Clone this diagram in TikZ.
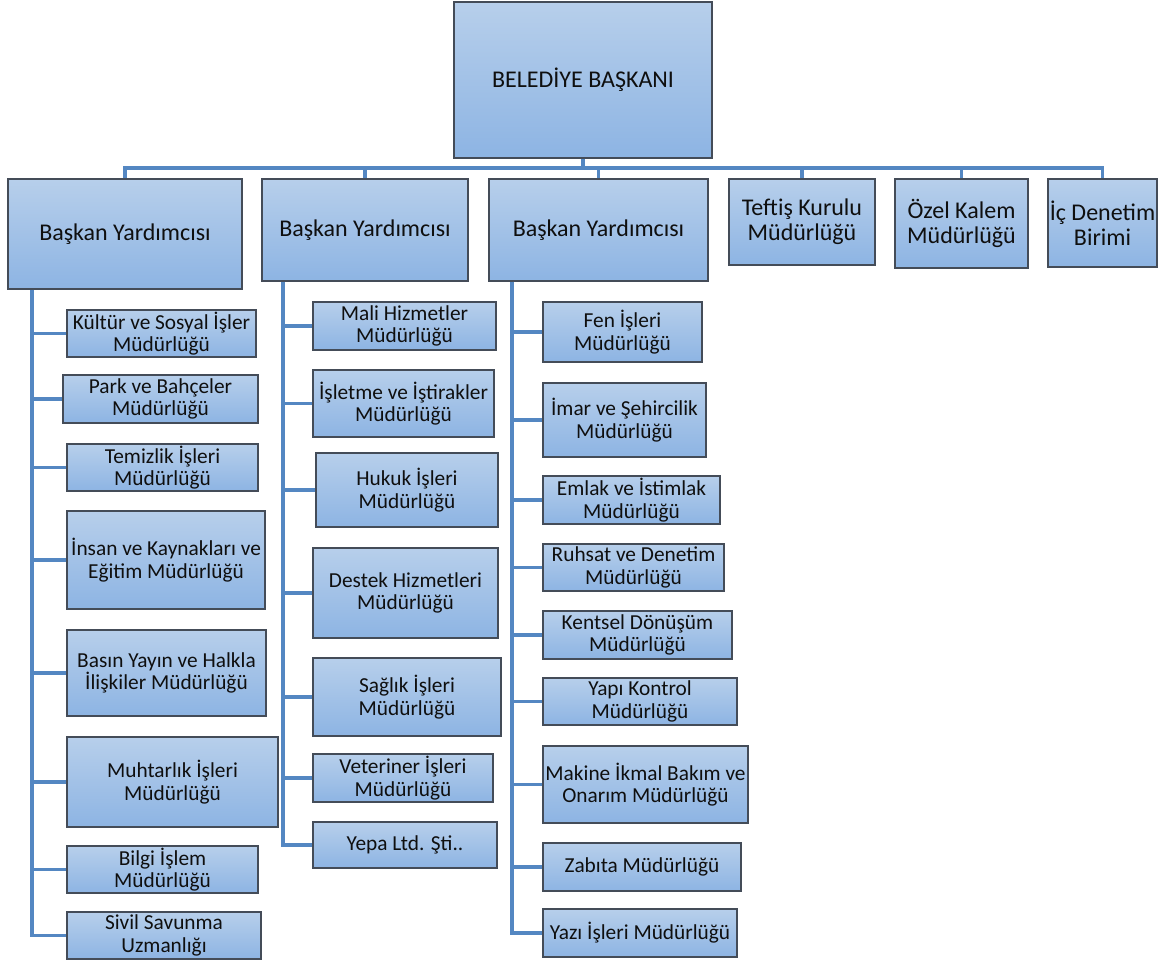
\documentclass[tikz,border=0pt]{standalone}
\usepackage{fontspec}
\setmainfont{Carlito}
\definecolor{boxtop}{RGB}{183,207,235}
\definecolor{boxbot}{RGB}{141,180,227}
\definecolor{boxline}{RGB}{68,76,88}
\definecolor{conncol}{RGB}{84,135,194}
\definecolor{txtcol}{RGB}{15,15,15}
\tikzset{
  box/.style={draw=boxline, line width=1pt, top color=boxtop, bottom color=boxbot,
    rectangle, inner sep=1pt, align=center, text=txtcol},
  bigtxt/.style={font=\fontsize{18}{18.5}\selectfont},
  smalltxt/.style={font=\fontsize{16}{17}\selectfont},
  conn/.style={draw=conncol, line width=2.5pt},
}
\newcommand\orgbox[7]{\node[box,#7, minimum width={(#4-#2)*0.75pt}, minimum height={(#5-#3)*0.75pt}] (#1) at ({(#2+#4)/2},{(#3+#5)/2}) {#6};}
\begin{document}
\begin{tikzpicture}[x=0.75pt,y=-0.75pt]
\useasboundingbox (0,0) rectangle (1176,962);
% top level
\orgbox{pres}{454}{2}{712}{158}{BELEDİYE BAŞKANI}{bigtxt}
\orgbox{by1}{8}{179}{242}{289}{Başkan Yardımcısı}{bigtxt}
\orgbox{by2}{262}{179}{468}{281}{Başkan Yardımcısı}{bigtxt}
\orgbox{by3}{489}{179}{708}{281}{Başkan Yardımcısı}{bigtxt}
\orgbox{teftis}{729}{179}{875}{265}{Teftiş Kurulu\\Müdürlüğü}{bigtxt}
\orgbox{ozel}{895}{179}{1028}{268}{Özel Kalem\\Müdürlüğü}{bigtxt}
\orgbox{ic}{1048}{179}{1157}{267}{İç Denetim\\Birimi}{bigtxt}
% left column
\orgbox{kultur}{67}{310}{256}{357}{Kültür ve Sosyal İşler\\Müdürlüğü}{smalltxt}
\orgbox{park}{63}{375}{258}{423}{Park ve Bahçeler\\Müdürlüğü}{smalltxt}
\orgbox{temizlik}{67}{444}{258}{491}{Temizlik İşleri\\Müdürlüğü}{smalltxt}
\orgbox{insan}{67}{511}{265}{609}{İnsan ve Kaynakları ve\\Eğitim Müdürlüğü}{smalltxt}
\orgbox{basin}{67}{630}{266}{716}{Basın Yayın ve Halkla\\İlişkiler Müdürlüğü}{smalltxt}
\orgbox{muhtar}{67}{737}{278}{827}{Muhtarlık İşleri\\Müdürlüğü}{smalltxt}
\orgbox{bilgi}{67}{846}{258}{893}{Bilgi İşlem\\Müdürlüğü}{smalltxt}
\orgbox{sivil}{67}{912}{261}{959}{Sivil Savunma\\Uzmanlığı}{smalltxt}
% middle column
\orgbox{mali}{313}{302}{496}{350}{Mali Hizmetler\\Müdürlüğü}{smalltxt}
\orgbox{isletme}{313}{370}{494}{437}{İşletme ve İştirakler\\Müdürlüğü}{smalltxt}
\orgbox{hukuk}{316}{453}{498}{527}{Hukuk İşleri\\Müdürlüğü}{smalltxt}
\orgbox{destek}{313}{548}{498}{638}{Destek Hizmetleri\\Müdürlüğü}{smalltxt}
\orgbox{saglik}{313}{658}{501}{736}{Sağlık İşleri\\Müdürlüğü}{smalltxt}
\orgbox{veteriner}{313}{754}{493}{802}{Veteriner İşleri\\Müdürlüğü}{smalltxt}
\orgbox{yepa}{313}{822}{497}{868}{Yepa Ltd. Şti..}{smalltxt}
% right column
\orgbox{fen}{543}{302}{702}{362}{Fen İşleri\\Müdürlüğü}{smalltxt}
\orgbox{imar}{543}{383}{706}{457}{İmar ve Şehircilik\\Müdürlüğü}{smalltxt}
\orgbox{emlak}{543}{476}{720}{524}{Emlak ve İstimlak\\Müdürlüğü}{smalltxt}
\orgbox{ruhsat}{543}{544}{724}{591}{Ruhsat ve Denetim\\Müdürlüğü}{smalltxt}
\orgbox{kentsel}{543}{611}{732}{659}{Kentsel Dönüşüm\\Müdürlüğü}{smalltxt}
\orgbox{yapi}{543}{678}{737}{725}{Yapı Kontrol\\Müdürlüğü}{smalltxt}
\orgbox{makine}{543}{746}{748}{823}{Makine İkmal Bakım ve\\Onarım Müdürlüğü}{smalltxt}
\orgbox{zabita}{543}{843}{741}{891}{Zabıta Müdürlüğü}{smalltxt}
\orgbox{yazi}{543}{909}{737}{957}{Yazı İşleri Müdürlüğü}{smalltxt}
% connectors top
\coordinate (bus) at (0,168);
\draw[conn] (pres.south) -- (pres.south |- bus);
\draw[conn] (by1.north) -- (by1.north |- bus) -- (ic.north |- bus) -- (ic.north);
\foreach \n in {by2,by3,teftis,ozel}{\draw[conn] (\n.north) -- (\n.north |- bus);}
% spines
\coordinate (s1) at (32,0);
\coordinate (s2) at (283,0);
\coordinate (s3) at (512,0);
\draw[conn] (s1 |- by1.south) -- (s1 |- sivil.west) -- (sivil.west);
\foreach \n in {kultur,park,temizlik,insan,basin,muhtar,bilgi}{\draw[conn] (s1 |- \n.west) -- (\n.west);}
\draw[conn] (s2 |- by2.south) -- (s2 |- yepa.west) -- (yepa.west);
\foreach \n in {mali,isletme,hukuk,destek,saglik,veteriner}{\draw[conn] (s2 |- \n.west) -- (\n.west);}
\draw[conn] (s3 |- by3.south) -- (s3 |- yazi.west) -- (yazi.west);
\foreach \n in {fen,imar,emlak,ruhsat,kentsel,yapi,makine,zabita}{\draw[conn] (s3 |- \n.west) -- (\n.west);}
\end{tikzpicture}
\end{document}
